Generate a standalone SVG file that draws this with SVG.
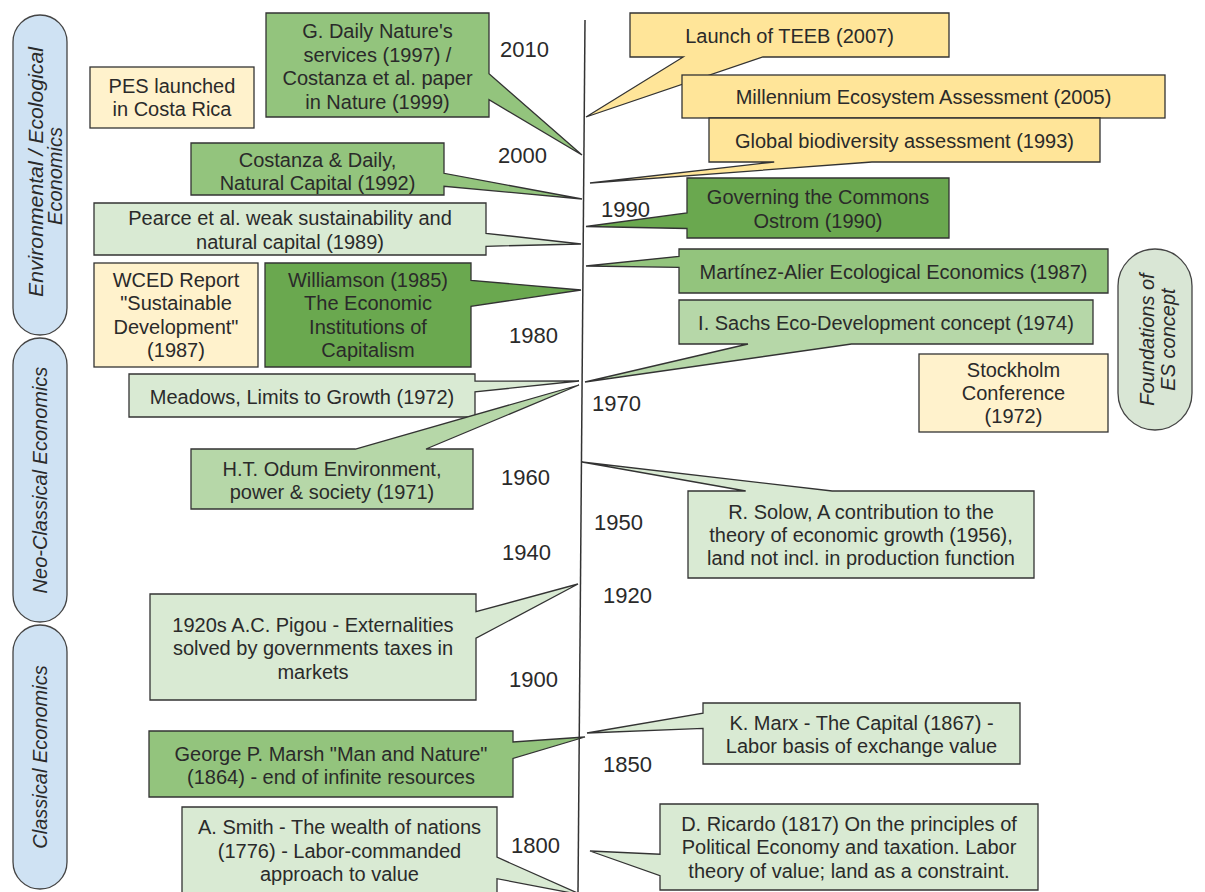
<svg xmlns="http://www.w3.org/2000/svg" width="1205" height="892" viewBox="0 0 1205 892">
<style>
text { font-family: "Liberation Sans", Arial, sans-serif; fill: #2a2a2a; }
.t { font-size: 20px; text-anchor: middle; }
.yr { font-size: 22px; }
.rot { font-size: 20px; font-style: italic; text-anchor: middle; }
.box { stroke: #333; stroke-width: 1.3; stroke-linejoin: miter; }
.g1 { fill: #6aa84f; }
.g2 { fill: #93c47d; }
.g3 { fill: #b6d7a8; }
.g4 { fill: #d9ead3; }
.y1 { fill: #ffe599; }
.y2 { fill: #fff2cc; }
.pill { fill: #cfe2f3; stroke: #444; stroke-width: 1.3; }
.pillg { fill: #d9e6d5; stroke: #444; stroke-width: 1.3; }
.axis { stroke: #333; stroke-width: 1.5; fill: none; }
</style>
<rect width="1205" height="892" fill="#ffffff"/>

<g id="connectors">
  <line class="axis" x1="585" y1="20" x2="578" y2="892"/>
</g>

<g id="eras">
  <g id="era-env">
    <rect class="pill" x="13" y="15" width="54" height="320" rx="27" ry="27"/>
    <text class="rot" transform="translate(43,172) rotate(-90)" textLength="250" lengthAdjust="spacingAndGlyphs">Environmental / Ecological</text>
    <text class="rot" transform="translate(62,176) rotate(-90)">Economics</text>
  </g>
  <g id="era-neo">
    <rect class="pill" x="13" y="338" width="54" height="284" rx="27" ry="27"/>
    <text class="rot" transform="translate(47,480) rotate(-90)">Neo-Classical Economics</text>
  </g>
  <g id="era-classical">
    <rect class="pill" x="13" y="625" width="54" height="264" rx="27" ry="27"/>
    <text class="rot" transform="translate(47,757) rotate(-90)">Classical Economics</text>
  </g>
  <g id="era-foundations">
    <rect class="pillg" x="1118" y="249" width="74" height="181" rx="37" ry="37"/>
    <text class="rot" transform="translate(1154,339.5) rotate(-90)">Foundations of</text>
    <text class="rot" transform="translate(1175,339.5) rotate(-90)">ES concept</text>
  </g>
</g>

<g id="years">
  <text class="yr" x="500" y="57">2010</text>
  <text class="yr" x="498" y="163">2000</text>
  <text class="yr" x="601" y="217">1990</text>
  <text class="yr" x="509" y="343">1980</text>
  <text class="yr" x="592" y="411">1970</text>
  <text class="yr" x="501" y="485">1960</text>
  <text class="yr" x="594" y="530">1950</text>
  <text class="yr" x="502" y="560">1940</text>
  <text class="yr" x="603" y="603">1920</text>
  <text class="yr" x="509" y="687">1900</text>
  <text class="yr" x="603" y="772">1850</text>
  <text class="yr" x="511" y="853">1800</text>
</g>

<g id="pes">
  <rect class="box y2" x="90" y="67" width="164" height="61"/>
  <text class="t" x="172" y="93">PES launched</text>
  <text class="t" x="172" y="116">in Costa Rica</text>
</g>

<g id="gdaily">
  <path class="box g2" d="M266,13 H489 V73.7 L582,155 L489,99.7 V117 H266 Z"/>
  <text class="t" x="377.5" y="38">G. Daily Nature's</text>
  <text class="t" x="377.5" y="61.5">services (1997) /</text>
  <text class="t" x="377.5" y="85">Costanza et al. paper</text>
  <text class="t" x="377.5" y="108.5">in Nature (1999)</text>
</g>

<g id="costanza">
  <path class="box g2" d="M191,143 H444 V173.3 L582,199 L444,186.3 V195 H191 Z"/>
  <text class="t" x="317.5" y="167">Costanza &amp; Daily,</text>
  <text class="t" x="317.5" y="190">Natural Capital (1992)</text>
</g>

<g id="pearce">
  <path class="box g4" d="M94,203 H486 V233.3 L581,244 L486,246.3 V255 H94 Z"/>
  <text class="t" x="290" y="225">Pearce et al. weak sustainability and</text>
  <text class="t" x="290" y="249">natural capital (1989)</text>
</g>

<g id="wced">
  <rect class="box y2" x="94" y="263" width="164" height="104"/>
  <text class="t" x="176" y="287">WCED Report</text>
  <text class="t" x="176" y="310">"Sustainable</text>
  <text class="t" x="176" y="333.5">Development"</text>
  <text class="t" x="176" y="357">(1987)</text>
</g>

<g id="williamson">
  <path class="box g1" d="M265,263 H471 V280.3 L581,290 L471,306.3 V367 H265 Z"/>
  <text class="t" x="368" y="287">Williamson (1985)</text>
  <text class="t" x="368" y="310">The Economic</text>
  <text class="t" x="368" y="333.5">Institutions of</text>
  <text class="t" x="368" y="357">Capitalism</text>
</g>

<g id="meadows">
  <path class="box g4" d="M129,374 H475 V381.2 L579,381 L475,391.9 V417 H129 Z"/>
  <text class="t" x="302" y="403.5">Meadows, Limits to Growth (1972)</text>
</g>

<g id="odum">
  <path class="box g3" d="M191,449 H355.5 L579,385 L426,449 H473 V509 H191 Z"/>
  <text class="t" x="332" y="476">H.T. Odum Environment,</text>
  <text class="t" x="332" y="499">power &amp; society (1971)</text>
</g>

<g id="pigou">
  <path class="box g4" d="M150,594 H476 V611.7 L578,584 L476,638.2 V700 H150 Z"/>
  <text class="t" x="313" y="631.5">1920s A.C. Pigou - Externalities</text>
  <text class="t" x="313" y="655">solved by governments taxes in</text>
  <text class="t" x="313" y="678.5">markets</text>
</g>

<g id="marsh">
  <path class="box g2" d="M149,731 H513 V742 L585,737 L513,758.5 V797 H149 Z"/>
  <text class="t" x="331" y="761">George P. Marsh "Man and Nature"</text>
  <text class="t" x="331" y="784">(1864) - end of infinite resources</text>
</g>

<g id="smith">
  <path class="box g4" d="M182,807 H497 V857.2 L582,895 L497,878.7 V893 H182 Z"/>
  <text class="t" x="339.5" y="834">A. Smith - The wealth of nations</text>
  <text class="t" x="339.5" y="857.5">(1776) - Labor-commanded</text>
  <text class="t" x="339.5" y="881">approach to value</text>
</g>

<g id="teeb">
  <path class="box y1" d="M630,13 H949 V57 H762.9 L586,117 L683.2,57 H630 Z"/>
  <text class="t" x="789.5" y="43">Launch of TEEB (2007)</text>
</g>

<g id="mea">
  <rect class="box y1" x="682" y="75" width="483" height="43"/>
  <text class="t" x="923.5" y="104">Millennium Ecosystem Assessment (2005)</text>
</g>

<g id="gba">
  <path class="box y1" d="M709,118 H1100 V162 H871.9 L590,183 L774.2,162 H709 Z"/>
  <text class="t" x="904.5" y="148">Global biodiversity assessment (1993)</text>
</g>

<g id="ostrom">
  <path class="box g1" d="M687,178 H949 V238 H687 V228.5 L586,226.5 L687,213 Z"/>
  <text class="t" x="818" y="204">Governing the Commons</text>
  <text class="t" x="818" y="228">Ostrom (1990)</text>
</g>

<g id="martinez">
  <path class="box g2" d="M679,249 H1108 V293 H679 V267.3 L586,266 L679,256.3 Z"/>
  <text class="t" x="893.5" y="279">Martínez-Alier Ecological Economics (1987)</text>
</g>

<g id="sachs">
  <path class="box g3" d="M679,300 H1093 V344 H851.5 L585,382 L748,344 H679 Z"/>
  <text class="t" x="886" y="330">I. Sachs Eco-Development concept (1974)</text>
</g>

<g id="stockholm">
  <rect class="box y2" x="919" y="354" width="189" height="78"/>
  <text class="t" x="1013.5" y="377">Stockholm</text>
  <text class="t" x="1013.5" y="400">Conference</text>
  <text class="t" x="1013.5" y="423">(1972)</text>
</g>

<g id="solow">
  <path class="box g4" d="M688,491 H745.7 L582,462 L832.2,491 H1034 V578 H688 Z"/>
  <text class="t" x="861" y="518.5">R. Solow, A contribution to the</text>
  <text class="t" x="861" y="542">theory of economic growth (1956),</text>
  <text class="t" x="861" y="565">land not incl. in production function</text>
</g>

<g id="marx">
  <path class="box g4" d="M703,703 H1020 V764 H703 V728.4 L587,733 L703,713.2 Z"/>
  <text class="t" x="861.5" y="730">K. Marx - The Capital (1867) -</text>
  <text class="t" x="861.5" y="753">Labor basis of exchange value</text>
</g>

<g id="ricardo">
  <path class="box g4" d="M660,804 H1038 V890 H660 V875.7 L590,851 L660,854.2 Z"/>
  <text class="t" x="849" y="830.5">D. Ricardo (1817) On the principles of</text>
  <text class="t" x="849" y="854">Political Economy and taxation. Labor</text>
  <text class="t" x="849" y="877.5">theory of value; land as a constraint.</text>
</g>
</svg>
